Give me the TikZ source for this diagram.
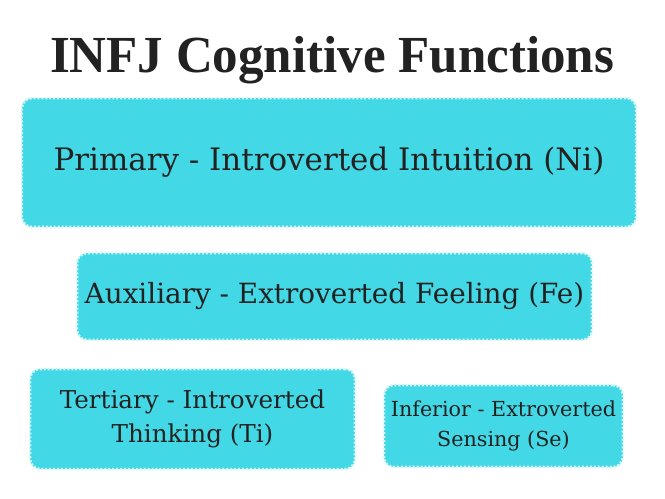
\documentclass[tikz,border=0pt]{standalone}
\usepackage{fontspec}
\usepackage{tikz}
\usetikzlibrary{positioning}
\newfontfamily\titlefont[FakeStretch=0.98]{Liberation Serif}
\newfontfamily\boxfont{DejaVu Serif}
\definecolor{boxfill}{RGB}{67,216,229}
\definecolor{boxedge}{RGB}{215,248,251}
\definecolor{inktext}{RGB}{34,34,34}

\begin{document}
\begin{tikzpicture}[x=0.025cm, y=-0.025cm,
  fnbox/.style={fill=boxfill, draw=boxedge, line width=1.8pt,
                dash pattern=on 1.4pt off 1.4pt, rounded corners=0.25cm,
                align=center, text=inktext, inner sep=0pt},
  title/.style={font=\titlefont\bfseries\fontsize{37}{40}\selectfont, text=inktext,
                anchor=base, inner sep=0pt}
]
  \useasboundingbox (0,0) rectangle (665,499);
  \node[title] (head) at (332,73) {INFJ Cognitive Functions};
  \node[fnbox, minimum width=15.35cm, minimum height=3.22cm,
        font=\boxfont\fontsize{22}{26}\selectfont] (prim) at (329,162.5)
        {Primary - Introverted Intuition (Ni)};
  \node[fnbox, minimum width=12.87cm, minimum height=2.17cm,
        font=\boxfont\fontsize{19.8}{24}\selectfont] (aux) at (334.5,296.5)
        {Auxiliary - Extroverted Feeling (Fe)};
  \node[fnbox, minimum width=8.12cm, minimum height=2.5cm,
        font=\boxfont\fontsize{17.5}{24}\selectfont] (tert) at (192.5,419)
        {Tertiary - Introverted\\Thinking (Ti)};
  \node[fnbox, minimum width=5.97cm, minimum height=2.05cm,
        font=\boxfont\fontsize{14.7}{21}\selectfont] (inf) at (503.5,426)
        {Inferior - Extroverted\\Sensing (Se)};
\end{tikzpicture}
\end{document}
